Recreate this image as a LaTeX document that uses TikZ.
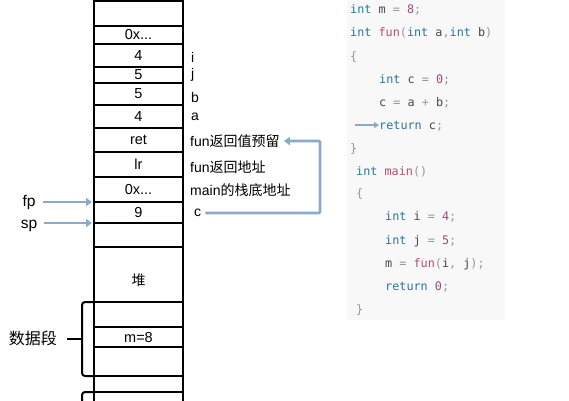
\documentclass[tikz,border=0pt]{standalone}
\usepackage{fontspec}
\setmainfont{Liberation Sans}
\newfontfamily\cjk{Noto Sans CJK SC}
\newfontfamily\codefont{DejaVu Sans Mono}
\usetikzlibrary{arrows.meta}
\definecolor{arrc}{RGB}{138,170,204}
\definecolor{codebg}{RGB}{248,248,248}
\definecolor{kwc}{RGB}{40,118,152}
\definecolor{fnc}{RGB}{178,78,110}
\definecolor{numc}{RGB}{150,78,128}
\definecolor{idc}{RGB}{72,72,72}
\definecolor{opc}{RGB}{150,150,150}
\newcommand\ckw[1]{\textcolor{kwc}{#1}}
\newcommand\cfn[1]{\textcolor{fnc}{#1}}
\newcommand\cnum[1]{\textcolor{numc}{#1}}
\newcommand\cid[1]{\textcolor{idc}{#1}}
\newcommand\cop[1]{\textcolor{opc}{#1}}
\tikzset{
  cell/.style={draw=black, line width=1.8pt, minimum width=89pt, inner sep=0pt, outer sep=0pt, font=\fontsize{14.5}{16}\selectfont},
  lab/.style={anchor=west, inner sep=1pt, font=\fontsize{14}{16}\selectfont},
  codeline/.style={anchor=base west, inner sep=0pt, font=\codefont\fontsize{11.8}{14}\selectfont},
  arr/.style={draw=arrc, line width=2.8pt, -{Triangle[length=6pt,width=8pt]}},
  brace/.style={draw=black, line width=2pt, rounded corners=3pt},
}
\begin{document}
\begin{tikzpicture}[x=1pt,y=-1pt]
\useasboundingbox (0,0) rectangle (569,400);
% code panel
\fill[codebg] (347,0) rectangle (505,320);
% stack cells
\foreach \n/\t/\b/\txt in {
  c1/1/26/{},
  c2/26/44/{0x...},
  c3/44/67/{4},
  c4/67/83/{5},
  c5/83/105/{5},
  c6/105/128/{4},
  c7/128/152/{ret},
  c8/152/177/{lr},
  c9/177/202/{0x...},
  c10/202/223/{9},
  c11/223/247/{},
  c12/247/302/{},
  c13/302/327/{},
  c14/327/347/{m=8},
  c15/347/376/{},
  c16/376/392/{},
  c17/392/412/{}}
{
  \pgfmathsetmacro\cy{(\t+\b)/2}
  \pgfmathsetmacro\hh{\b-\t}
  \node[cell, minimum height=\hh pt] (\n) at (138.5,\cy) {\txt};
}
\node[inner sep=0pt, font=\cjk\fontsize{14}{16}\selectfont] (heap) at (138.5,280) {堆};
% right labels
\node[lab] (li) at (190,57) {i};
\node[lab] (lj) at (190,75) {j};
\node[lab] (lb) at (190,97) {b};
\node[lab] (la) at (190,117) {a};
\node[lab] (lret) at (189,141) {fun{\cjk 返回值预留}};
\node[lab] (llr) at (189,167) {fun{\cjk 返回地址}};
\node[lab] (lfp) at (189,190) {main{\cjk 的栈底地址}};
\node[lab] (lc) at (193,213) {c};
\coordinate (rx) at (320,0);
\draw[arr, shorten >=3pt, rounded corners=1pt]
  (lc.east) ++(3,0) -- (lc.east -| rx) |- (lret.east);
% fp / sp
\node[lab, anchor=center, font=\fontsize{15.5}{17}\selectfont] (fp) at (29,202) {fp};
\node[lab, anchor=center, font=\fontsize{15.5}{17}\selectfont] (sp) at (29,226) {sp};
\draw[arr, shorten <=6pt, shorten >=2pt] (fp.east |- c10.north west) -- (c10.north west);
\draw[arr, shorten <=6pt, shorten >=2pt] (sp.east |- c11.north west) -- (c11.north west);
% braces
\coordinate (bx) at (82,0);
\draw[brace] (c13.north west) -- (c13.north west -| bx) -- (c15.south west -| bx) -- (c15.south west);
\draw[brace] (82,339) -- (67,339);
\draw[brace] (c17.north west) -- (c17.north west -| bx) -- (82,412);
\node[lab, anchor=center, font=\cjk\fontsize{16}{18}\selectfont] (ds) at (33,338) {数据段};
% code
\node[codeline] (k1) at (350,13) {\ckw{int} \cid{m} \cop{=} \cnum{8}\cop{;}};
\node[codeline] (k2) at (350,36) {\ckw{int} \cfn{fun}\cop{(}\ckw{int} \cid{a}\cop{,}\ckw{int} \cid{b}\cop{)}};
\node[codeline] (k3) at (350,60) {\cop{\{}};
\node[codeline] (k4) at (379,83) {\ckw{int} \cid{c} \cop{=} \cnum{0}\cop{;}};
\node[codeline] (k5) at (379,106) {\cid{c} \cop{=} \cid{a} \cop{+} \cid{b}\cop{;}};
\node[codeline] (k6) at (379,129) {\ckw{return} \cid{c}\cop{;}};
\node[codeline] (k7) at (350,152) {\cop{\}}};
\node[codeline] (k8) at (356,175) {\ckw{int} \cfn{main}\cop{()}};
\node[codeline] (k9) at (356,197) {\cop{\{}};
\node[codeline] (k10) at (385,220) {\ckw{int} \cid{i} \cop{=} \cnum{4}\cop{;}};
\node[codeline] (k11) at (385,244) {\ckw{int} \cid{j} \cop{=} \cnum{5}\cop{;}};
\node[codeline] (k12) at (385,267) {\cid{m} \cop{=} \cfn{fun}\cop{(}\cid{i}\cop{,} \cid{j}\cop{);}};
\node[codeline] (k13) at (385,290) {\ckw{return} \cnum{0}\cop{;}};
\node[codeline] (k14) at (356,313) {\cop{\}}};
\coordinate (ra) at (355,125);
\draw[arr, line width=2.2pt, -{Triangle[length=5pt,width=6pt]}] (ra) -- (ra -| k6.west);
\end{tikzpicture}
\end{document}
